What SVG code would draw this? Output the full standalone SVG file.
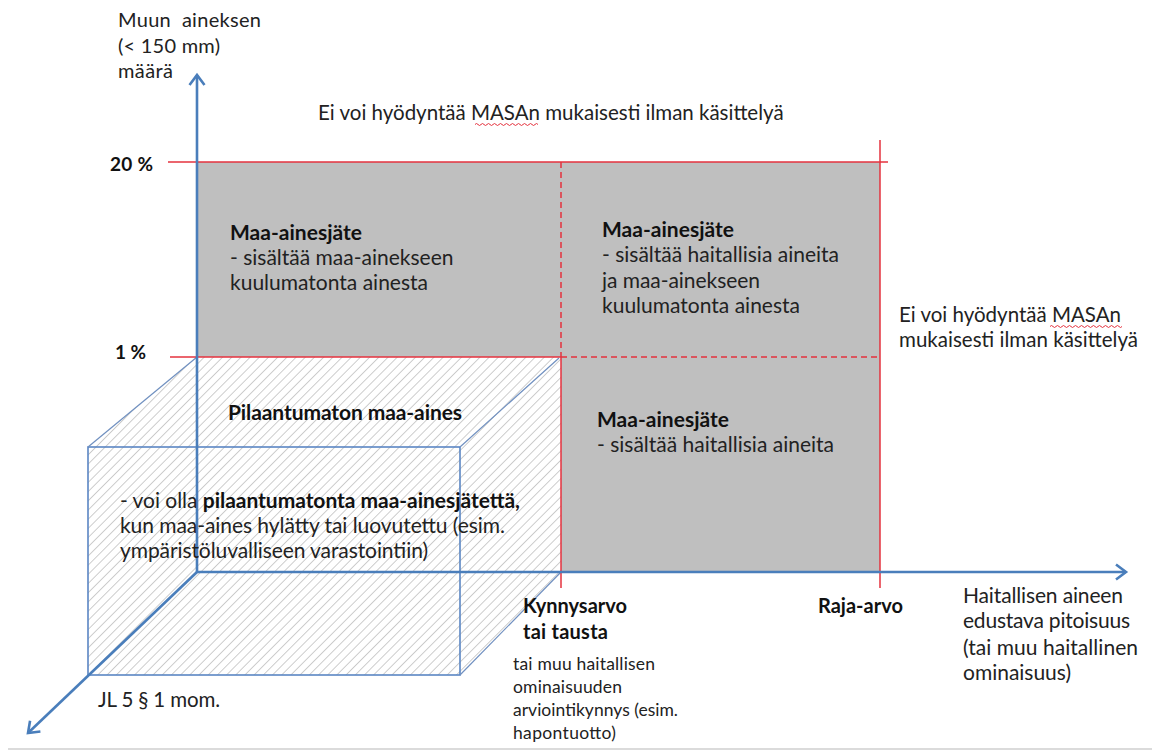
<svg xmlns="http://www.w3.org/2000/svg" width="1152" height="752" viewBox="0 0 1152 752">
<style>
.t{font-family:Lato,"Open Sans","Liberation Sans",sans-serif;font-size:21px;fill:#222}
.b{font-weight:bold;fill:#111}
.m{font-size:20.5px}
.y{font-size:20px}
.p{font-size:19px}
.k{font-size:20px}
.s{font-size:17.5px}
.ax{stroke:#4a7ebb;stroke-width:2.6;fill:none}
.cube{stroke:#5b86c4;stroke-width:1.6;fill:none}
.cd{stroke:#7090c0;stroke-width:1.2;fill:none}
.red{stroke:#e5323e;stroke-width:1.5;fill:none}
.dash{stroke-dasharray:6 4}
.wave{stroke:#e5323e;stroke-width:1;fill:none}
</style>
<defs>
<pattern id="hatch" patternUnits="userSpaceOnUse" width="6.5" height="6.5" patternTransform="rotate(45)">
<line x1="0" y1="0" x2="0" y2="6.5" stroke="#b8b8b8" stroke-width="1.4"/>
</pattern>
<marker id="arr" markerUnits="userSpaceOnUse" markerWidth="20" markerHeight="20" refX="0" refY="0" viewBox="-12 -10 14 20" orient="auto" overflow="visible">
<path d="M-10,-7.5 L0,0 L-10,7.5" fill="none" stroke="#4a7ebb" stroke-width="2.6"/>
</marker>
</defs>
<rect width="1152" height="752" fill="#fff"/>
<g id="regions">
<rect x="197" y="162" width="683" height="195" fill="#bfbfbf"/>
<rect x="561" y="357" width="319" height="215" fill="#bfbfbf"/>
<polygon points="88,447 197,357 561,357 561,572 460,675 88,675" fill="url(#hatch)"/>
</g>
<g id="cube">
<rect class="cube" x="88" y="447" width="372" height="228"/>
<line class="cd" x1="88" y1="447" x2="197" y2="357"/>
<line class="cd" x1="460" y1="447" x2="559" y2="358"/>
<line class="cd" x1="460" y1="675" x2="561" y2="572"/>
</g>
<g id="limits">
<line class="red" x1="168" y1="162" x2="888" y2="162"/>
<line class="red" x1="170" y1="357" x2="561" y2="357"/>
<line class="red dash" x1="561" y1="357" x2="880" y2="357"/>
<line class="red dash" x1="561" y1="162" x2="561" y2="357"/>
<line class="red" x1="561" y1="357" x2="561" y2="588"/>
<line class="red" x1="880" y1="140" x2="880" y2="588"/>
</g>
<g id="connectors">
<line class="ax" x1="197" y1="572" x2="197" y2="75" marker-end="url(#arr)"/>
<line class="ax" x1="197" y1="572" x2="1126" y2="572" marker-end="url(#arr)"/>
<line class="ax" x1="197" y1="572" x2="28" y2="733" marker-end="url(#arr)"/>
</g>
<line x1="8" y1="749" x2="1152" y2="749" stroke="#cfcfcf" stroke-width="1.5"/>
<g id="axis-y-label">
<text class="t y" x="118" y="27" xml:space="preserve" textLength="143" lengthAdjust="spacing">Muun  aineksen</text>
<text class="t y" x="118" y="53" textLength="102" lengthAdjust="spacing">(&lt; 150 mm)</text>
<text class="t y" x="118" y="78" textLength="55" lengthAdjust="spacing">määrä</text>
</g>
<g id="top-note">
<text class="t m" x="318" y="120">Ei voi hyödyntää MASAn mukaisesti ilman käsittelyä</text>
<path class="wave" d="M475,124.5 q1.5,-2 3,0 t3,0 t3,0 t3,0 t3,0 t3,0 t3,0 t3,0 t3,0 t3,0 t3,0 t3,0 t3,0 t3,0 t3,0 t3,0 t3,0 t3,0 t3,0 t3,0 t3,0"/>
</g>
<g id="pct">
<text class="t b p" x="110" y="171" textLength="43" lengthAdjust="spacing">20 %</text>
<text class="t b p" x="115" y="359" textLength="31" lengthAdjust="spacing">1 %</text>
</g>
<g id="region-top-left">
<text class="t b" x="230" y="240" textLength="132" lengthAdjust="spacing">Maa-ainesjäte</text>
<text class="t" x="230" y="265">- sisältää maa-ainekseen</text>
<text class="t" x="230" y="290" textLength="198" lengthAdjust="spacing">kuulumatonta ainesta</text>
</g>
<g id="region-top-right">
<text class="t b" x="602" y="237" textLength="132" lengthAdjust="spacing">Maa-ainesjäte</text>
<text class="t" x="602" y="262" textLength="237" lengthAdjust="spacing">- sisältää haitallisia aineita</text>
<text class="t" x="602" y="288" textLength="158" lengthAdjust="spacing">ja maa-ainekseen</text>
<text class="t" x="602" y="313" textLength="198" lengthAdjust="spacing">kuulumatonta ainesta</text>
</g>
<g id="right-note">
<text class="t m" x="899" y="322" textLength="222" lengthAdjust="spacing">Ei voi hyödyntää MASAn</text>
<path class="wave" d="M1050,326.5 q1.5,-2 3,0 t3,0 t3,0 t3,0 t3,0 t3,0 t3,0 t3,0 t3,0 t3,0 t3,0 t3,0 t3,0 t3,0 t3,0 t3,0 t3,0 t3,0 t3,0 t3,0 t3,0 t3,0 t3,0 t3,0"/>
<text class="t m" x="899" y="347" textLength="239" lengthAdjust="spacing">mukaisesti ilman käsittelyä</text>
</g>
<g id="region-bottom-right">
<text class="t b" x="597" y="427" textLength="132" lengthAdjust="spacing">Maa-ainesjäte</text>
<text class="t" x="597" y="452" textLength="237" lengthAdjust="spacing">- sisältää haitallisia aineita</text>
</g>
<g id="region-cube">
<text class="t b" x="228" y="420" textLength="234" lengthAdjust="spacing">Pilaantumaton maa-aines</text>
<text class="t" x="120" y="508" textLength="400" lengthAdjust="spacing">- voi olla <tspan class="b">pilaantumatonta maa-ainesjätettä,</tspan></text>
<text class="t" x="120" y="533" textLength="385" lengthAdjust="spacing">kun maa-aines hylätty tai luovutettu (esim.</text>
<text class="t" x="120" y="558" textLength="308" lengthAdjust="spacing">ympäristöluvalliseen varastointiin)</text>
</g>
<g id="threshold">
<text class="t b k" x="523" y="613" textLength="104" lengthAdjust="spacing">Kynnysarvo</text>
<text class="t b k" x="523" y="639" textLength="85" lengthAdjust="spacing">tai tausta</text>
<text class="t s" x="513" y="670" textLength="142" lengthAdjust="spacing">tai muu haitallisen</text>
<text class="t s" x="513" y="693" textLength="109" lengthAdjust="spacing">ominaisuuden</text>
<text class="t s" x="513" y="716" textLength="165" lengthAdjust="spacing">arviointikynnys (esim.</text>
<text class="t s" x="513" y="739" textLength="103" lengthAdjust="spacing">hapontuotto)</text>
</g>
<g id="limit-value">
<text class="t b k" x="818" y="613">Raja-arvo</text>
</g>
<g id="axis-x-label">
<text class="t" x="963" y="603" textLength="160" lengthAdjust="spacing">Haitallisen aineen</text>
<text class="t" x="963" y="628" textLength="167" lengthAdjust="spacing">edustava pitoisuus</text>
<text class="t" x="963" y="655" textLength="175" lengthAdjust="spacing">(tai muu haitallinen</text>
<text class="t" x="963" y="680" textLength="108" lengthAdjust="spacing">ominaisuus)</text>
</g>
<g id="axis-z-label">
<text class="t m" x="98" y="707" textLength="122" lengthAdjust="spacing">JL 5 § 1 mom.</text>
</g>
</svg>
